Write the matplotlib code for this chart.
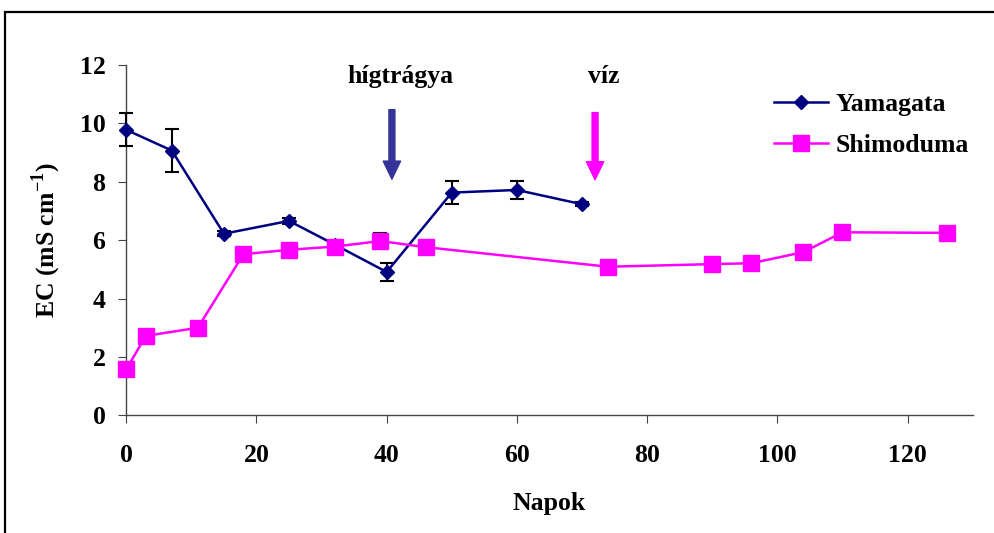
import matplotlib
matplotlib.use("Agg")
import matplotlib.pyplot as plt
from matplotlib.patches import Rectangle

# EC readings over time (days)
yam_days = [0, 7, 15, 25, 32, 40, 50, 60, 70]
yam_ec = [9.78, 9.07, 6.22, 6.66, 5.85, 4.91, 7.63, 7.72, 7.23]
yam_err = [0.56, 0.73, 0.08, 0.10, 0.0, 0.32, 0.39, 0.30, 0.07]

shim_days = [0, 3, 11, 18, 25, 32, 39, 46, 74, 90, 96, 104, 110, 126]
shim_ec = [1.57, 2.72, 3.0, 5.52, 5.67, 5.78, 5.97, 5.76, 5.09, 5.18, 5.21, 5.59, 6.27, 6.25]
shim_err = [0, 0, 0, 0, 0, 0, 0.27, 0, 0, 0, 0, 0, 0, 0]

# treatment events: label, day, arrow top, arrow tip, colour
events = [("hígtrágya", 40.8, 10.47, 8.09, "#333399"),
          ("víz", 72.0, 10.37, 8.07, "#FF00FF")]

plt.rcParams["font.family"] = ["Liberation Serif", "DejaVu Serif"]
plt.rcParams["font.weight"] = "bold"
plt.rcParams["mathtext.fontset"] = "custom"
plt.rcParams["mathtext.rm"] = "Liberation Serif:bold"
plt.rcParams["mathtext.bf"] = "Liberation Serif:bold"
fs = 18.5

fig = plt.figure(figsize=(9.94, 5.33), dpi=100)
fig.patches.append(Rectangle((5 / 994, -0.1), 1.2, 1 - 12 / 533 + 0.1,
                             transform=fig.transFigure, fill=False,
                             edgecolor="black", linewidth=1.6))
ax = fig.add_axes([0.127, 0.2208, 0.9786 - 0.127, 0.878 - 0.2208])

series = [
    ax.errorbar(yam_days, yam_ec, yerr=yam_err, color="#000080", lw=1.8,
                marker="D", ms=7.5, ecolor="black", elinewidth=1.5, capsize=5,
                capthick=1.5, label="Yamagata", zorder=3),
    ax.errorbar(shim_days, shim_ec, yerr=shim_err, color="#FF00FF", lw=1.8,
                marker="s", ms=11, ecolor="black", elinewidth=1.5, capsize=5,
                capthick=1.5, label="Shimoduma", zorder=4),
]
for cont in series:
    for art in cont.get_children():
        art.set_clip_on(False)

for name, day, top, tip, col in events:
    ax.annotate("", xy=(day, tip), xytext=(day, top),
                arrowprops=dict(width=4.3, headwidth=12.5, headlength=13,
                                color=col, shrink=0))
    ax.text(day + 1.3, 11.39, name, ha="center", va="baseline",
            fontsize=fs, fontweight="bold")

ax.set_xlim(0, 130)
ax.set_ylim(0, 12)
ax.set_xticks(range(0, 121, 20))
ax.set_yticks(range(0, 13, 2))
for s in ["top", "right"]:
    ax.spines[s].set_visible(False)
for s in ["left", "bottom"]:
    ax.spines[s].set_color("#444444")
    ax.spines[s].set_linewidth(1.0)
ax.tick_params(axis="both", direction="out", length=6, color="#444444",
               labelsize=fs)
ax.tick_params(axis="x", pad=15)
ax.tick_params(axis="y", pad=9)
for lab in ax.get_xticklabels() + ax.get_yticklabels():
    lab.set_fontweight("bold")

ax.set_xlabel("Napok", fontsize=fs, fontweight="bold", labelpad=18)
ax.set_ylabel(r"EC (mS cm$^{\mathbf{-1}}$)", fontsize=fs, fontweight="bold",
              labelpad=12)

handles, labels = ax.get_legend_handles_labels()
handles = [h[0] for h in handles]
ax.legend(handles, labels, loc="upper left", bbox_to_anchor=(0.738, 0.985),
          frameon=False, handlelength=2.1, handletextpad=0.3,
          labelspacing=0.68, prop={"size": fs, "weight": "bold"})

fig.savefig("out.png", dpi=100)
